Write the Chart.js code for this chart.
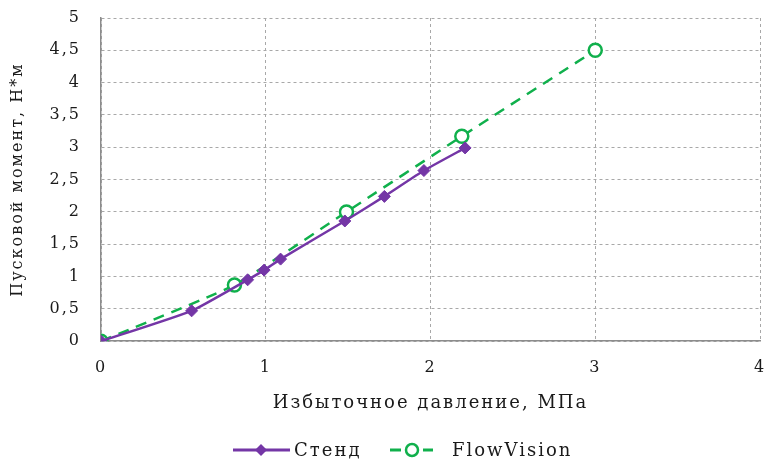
<!DOCTYPE html>
<html><head><meta charset="utf-8">
<script src="https://cdn.jsdelivr.net/npm/chart.js@4"></script>
<style>html,body{margin:0;padding:0;background:#fff}#w{width:769px;height:464px}</style>
</head><body><div id="w"><canvas id="c" width="769" height="464"></canvas></div>
<script>
const seriesNames = ['Стенд', 'FlowVision'];
const standX = [0, 0.55, 0.89, 0.99, 1.09, 1.48, 1.72, 1.96, 2.21];
const standY = [0, 0.47, 0.95, 1.10, 1.27, 1.86, 2.24, 2.64, 2.99];
const flowX = [0, 0.81, 1.49, 2.19, 3.0];
const flowY = [0, 0.87, 2.0, 3.17, 4.5];
const xTicks = [0, 1, 2, 3, 4];
const yTicks = [0, 0.5, 1, 1.5, 2, 2.5, 3, 3.5, 4, 4.5, 5];
const xTitle = 'Избыточное давление, МПа';
const yTitle = 'Пусковой момент, Н*м';

const PURPLE = '#7436A6', GREEN = '#10B04C';
const FONT = 'DejaVu Serif';
const TEXT = '#1a1a1a';

const spacingPlugin = {
  id: 'spacing',
  beforeLayout(chart) { chart.ctx.letterSpacing = '2px'; },
  beforeDraw(chart) { chart.ctx.letterSpacing = '2px'; }
};

const legendPlugin = {
  id: 'lineLegend',
  afterDraw(chart) {
    const ctx = chart.ctx;
    const y = 450;
    ctx.save();
    ctx.letterSpacing = '2px';
    ctx.font = '18px "' + FONT + '"';
    ctx.textBaseline = 'middle';
    // series 1
    ctx.strokeStyle = PURPLE; ctx.lineWidth = 3; ctx.setLineDash([]);
    ctx.beginPath(); ctx.moveTo(233, y); ctx.lineTo(290, y); ctx.stroke();
    ctx.fillStyle = PURPLE;
    ctx.beginPath(); ctx.moveTo(261, y-6); ctx.lineTo(267, y); ctx.lineTo(261, y+6); ctx.lineTo(255, y); ctx.closePath(); ctx.fill();
    ctx.fillStyle = TEXT;
    ctx.fillText(seriesNames[0], 294, y + 1);
    // series 2
    ctx.strokeStyle = GREEN; ctx.lineWidth = 3;
    ctx.beginPath(); ctx.moveTo(390, y); ctx.lineTo(401, y); ctx.stroke();
    ctx.beginPath(); ctx.moveTo(423, y); ctx.lineTo(433, y); ctx.stroke();
    ctx.lineWidth = 2.5; ctx.fillStyle = '#fff';
    ctx.beginPath(); ctx.arc(412, y, 6, 0, Math.PI*2); ctx.fill(); ctx.stroke();
    ctx.fillStyle = TEXT;
    ctx.fillText(seriesNames[1], 452, y + 1);
    ctx.restore();
  }
};

new Chart(document.getElementById('c'), {
  type: 'scatter',
  data: {
    datasets: [
      {
        label: seriesNames[0],
        data: standX.map((x, i) => ({x, y: standY[i]})),
        showLine: true,
        borderColor: PURPLE, backgroundColor: PURPLE,
        borderWidth: 2.5, tension: 0.15,
        pointStyle: 'rectRot', pointRadius: 6, pointBorderWidth: 1
      },
      {
        label: seriesNames[1],
        data: flowX.map((x, i) => ({x, y: flowY[i]})),
        showLine: true,
        borderColor: GREEN, backgroundColor: '#fff',
        borderWidth: 2.5, borderDash: [11, 8], tension: 0.15,
        pointStyle: 'circle', pointRadius: 6.5, pointBorderWidth: 2.5
      }
    ]
  },
  options: {
    responsive: false, animation: false,
    layout: { padding: { top: 18, right: 6, left: 0, bottom: 50 } },
    plugins: { legend: { display: false }, tooltip: { enabled: false } },
    scales: {
      x: {
        type: 'linear', min: 0, max: 4,
        afterBuildTicks(s) { s.ticks = xTicks.map(v => ({value: v})); },
        afterFit(s) { s.paddingLeft = 0; s.paddingRight = 0; },
        grid: { color: '#A8A8A8', drawTicks: false, lineWidth: 1 },
        border: { color: '#8C8C8C', width: 1.5, dash: [3, 3] },
        ticks: { padding: 17, color: TEXT, font: { family: FONT, size: 16 } },
        title: { display: true, text: xTitle, color: TEXT, font: { family: FONT, size: 18 }, padding: { top: -2, bottom: 0 } }
      },
      y: {
        type: 'linear', min: 0, max: 5,
        afterBuildTicks(s) { s.ticks = yTicks.map(v => ({value: v})); },
        afterFit(s) { s.width = 101; s.paddingTop = 0; s.paddingBottom = 0; },
        grid: { color: '#A8A8A8', drawTicks: false, lineWidth: 1 },
        border: { color: '#8C8C8C', width: 1.5, dash: [3, 3] },
        ticks: { padding: 20, color: TEXT, font: { family: FONT, size: 16 },
          callback: v => String(v).replace('.', ',') },
        title: { display: true, text: yTitle, color: TEXT, font: { family: FONT, size: 16 }, padding: { top: 8, bottom: 0 } }
      }
    }
  },
  plugins: [spacingPlugin, legendPlugin]
});
</script></body></html>
